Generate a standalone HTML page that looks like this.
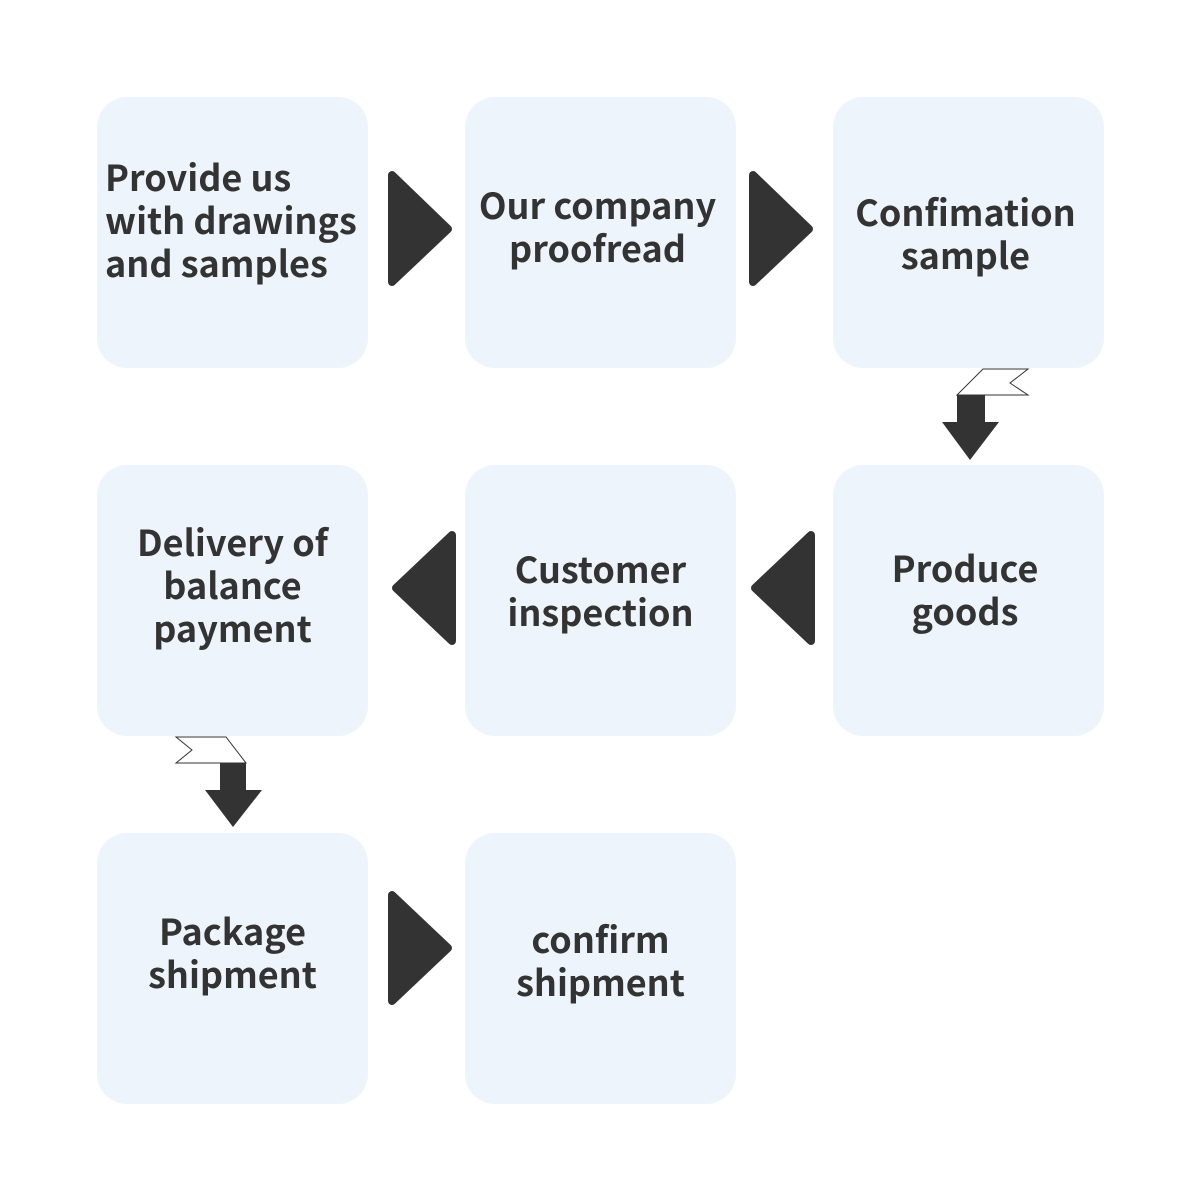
<!DOCTYPE html>
<html><head><style>
body{margin:0;width:1200px;height:1200px;background:#fff;position:relative;overflow:hidden}
.b{position:absolute;width:271px;height:271px;background:#eef4fb;border-radius:30px;display:flex;align-items:center;justify-content:center;text-align:center;font-family:"Noto Sans CJK SC","Liberation Sans",sans-serif;font-weight:bold;font-size:36px;line-height:43px;color:#333;box-sizing:border-box}
svg{position:absolute;left:0;top:0}
</style></head><body>
<div class="b" style="left:97px;top:97px;justify-content:flex-start;text-align:left;padding-left:8px;padding-bottom:26px">Provide us<br>with drawings<br>and samples</div>
<div class="b" style="left:465px;top:97px;padding-bottom:14px;padding-right:6px">Our company<br>proofread</div>
<div class="b" style="left:833px;top:97px;padding-top:0;padding-right:6px">Confimation<br>sample</div>
<div class="b" style="left:97px;top:465px;padding-bottom:32px">Delivery of<br>balance<br>payment</div>
<div class="b" style="left:465px;top:465px;padding-bottom:22px">Customer<br>inspection</div>
<div class="b" style="left:833px;top:465px;padding-bottom:24px;padding-right:7px">Produce<br>goods</div>
<div class="b" style="left:97px;top:833px;padding-bottom:34px">Package<br>shipment</div>
<div class="b" style="left:465px;top:833px;padding-bottom:18px">confirm<br>shipment</div>
<svg width="1200" height="1200">
<g fill="#333" stroke="#333" stroke-width="8" stroke-linejoin="round">
<polygon points="392,175 392,282 448,229"/>
<polygon points="753,175 753,282 809,229"/>
<polygon points="452,535 452,641 396,588"/>
<polygon points="811,535 811,641 755,588"/>
<polygon points="392,895 392,1001 448,948"/>
</g>
<g stroke="#333" stroke-width="1">
<polygon points="983,369 1028,369 1010,383 1028,395 957,395" fill="#fff"/>
<polygon points="176,737 226,737 246,763 176,763 192,750" fill="#fff"/>
</g>
<g fill="#333">
<polygon points="957,395 985,395 985,422 999,422 970,460 942,422 957,422"/>
<polygon points="220,763 246,763 246,790 262,790 233,827 205,790 220,790"/>
</g>
</svg>
</body></html>
